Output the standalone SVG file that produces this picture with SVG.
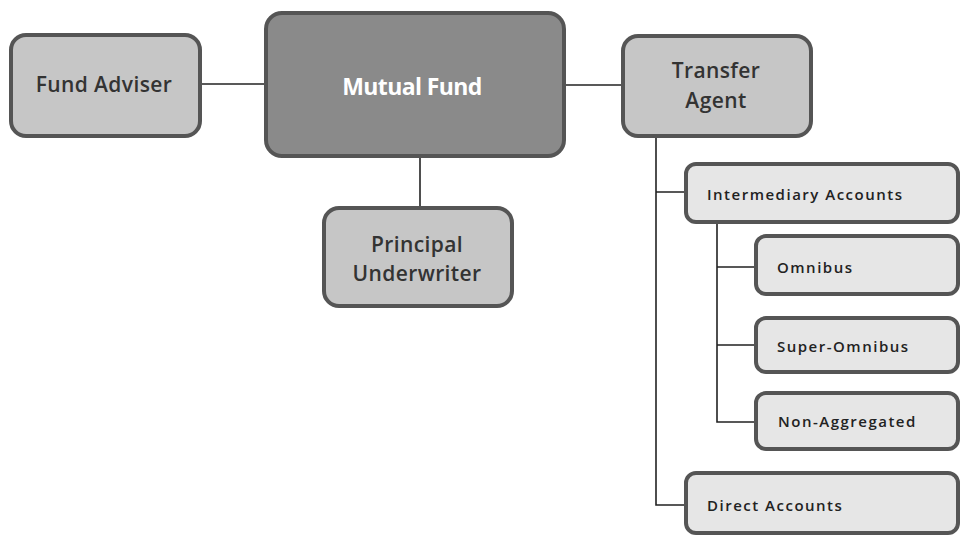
<svg xmlns="http://www.w3.org/2000/svg" width="961" height="536" viewBox="0 0 961 536">
<style>
.box{stroke:#555;stroke-width:4}
.mid{fill:#c6c6c6}
.main{fill:#8a8a8a}
.leaf{fill:#e6e6e6}
.t{font-family:"Open Sans","Noto Sans",sans-serif;font-weight:600;fill:#333;text-anchor:middle;dominant-baseline:central;font-size:21px;letter-spacing:0.4px}
.s{font-family:"Open Sans","Noto Sans",sans-serif;font-weight:600;fill:#222;font-size:15px;letter-spacing:1.5px;dominant-baseline:central}
.c{stroke:#222;stroke-width:1.6;fill:none}
</style>
<rect width="961" height="536" fill="#fff"/>
<g id="connectors">
<line class="c" x1="200" y1="84" x2="265" y2="84"/>
<line class="c" x1="565" y1="85" x2="622" y2="85"/>
<line class="c" x1="420" y1="157" x2="420" y2="207"/>
<path class="c" d="M656 137 V505 H685 M656 192 H685"/>
<path class="c" d="M717 223 V422 H755 M717 267 H755 M717 345 H755"/>
</g>
<g id="fund-adviser"><rect class="box mid" x="11" y="35" width="189" height="101" rx="15"/><text class="t" x="104" y="84">Fund Adviser</text></g>
<g id="mutual-fund"><rect class="box main" x="266" y="13" width="298" height="143" rx="16"/><text class="t" x="412" y="86" style="fill:#fff;font-weight:700;font-size:23px;letter-spacing:-0.6px">Mutual Fund</text></g>
<g id="transfer-agent"><rect class="box mid" x="623" y="36" width="188" height="100" rx="15"/><text class="t" x="716" y="70">Transfer</text><text class="t" x="716" y="100">Agent</text></g>
<g id="principal-underwriter"><rect class="box mid" x="324" y="208" width="188" height="98" rx="15"/><text class="t" x="417" y="244">Principal</text><text class="t" x="417" y="273">Underwriter</text></g>
<g id="intermediary-accounts"><rect class="box leaf" x="686" y="164" width="272" height="58" rx="10"/><text class="s" x="707" y="194">Intermediary Accounts</text></g>
<g id="omnibus"><rect class="box leaf" x="756" y="236" width="202" height="58" rx="10"/><text class="s" x="777" y="267">Omnibus</text></g>
<g id="super-omnibus"><rect class="box leaf" x="756" y="318" width="202" height="54" rx="10"/><text class="s" x="777" y="346">Super-Omnibus</text></g>
<g id="non-aggregated"><rect class="box leaf" x="756" y="393" width="202" height="56" rx="10"/><text class="s" x="778" y="421">Non-Aggregated</text></g>
<g id="direct-accounts"><rect class="box leaf" x="686" y="473" width="272" height="60" rx="10"/><text class="s" x="707" y="505">Direct Accounts</text></g>
</svg>
